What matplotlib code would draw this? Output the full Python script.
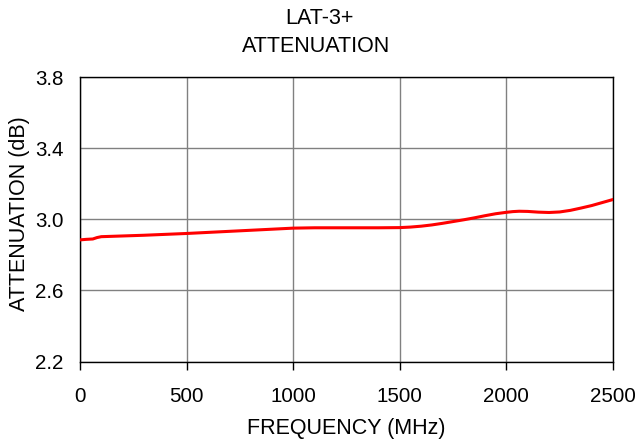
import matplotlib
matplotlib.use('Agg')
import matplotlib.pyplot as plt

plt.rcParams['font.family'] = ['Liberation Sans', 'DejaVu Sans']

# values
freq_mhz = [0, 30, 60, 80, 100, 200, 300, 400, 500, 600, 700, 800, 900, 1000,
            1100, 1200, 1300, 1400, 1500, 1550, 1600, 1650, 1700, 1750, 1800,
            1850, 1900, 1950, 2000, 2030, 2060, 2100, 2150, 2200, 2250, 2300,
            2350, 2400, 2450, 2500]
atten_db = [2.884, 2.887, 2.889, 2.897, 2.902, 2.906, 2.910, 2.915, 2.920, 2.926,
            2.932, 2.938, 2.944, 2.950, 2.952, 2.952, 2.952, 2.952, 2.953, 2.956,
            2.961, 2.968, 2.977, 2.987, 2.997, 3.008, 3.020, 3.031, 3.039, 3.043,
            3.045, 3.044, 3.040, 3.038, 3.041, 3.050, 3.063, 3.077, 3.094, 3.111]

x_ticks = [0, 500, 1000, 1500, 2000, 2500]
y_ticks = [2.2, 2.6, 3.0, 3.4, 3.8]

W, H = 638, 440
fig = plt.figure(figsize=(W / 100, H / 100), dpi=100)
ax = fig.add_axes([80 / W, (H - 361.5) / H, 533 / W, 284.5 / H])

ax.plot(freq_mhz, atten_db, color='#ff0000', linewidth=2.2, zorder=3)

ax.set_xlim(0, 2500)
ax.set_ylim(2.2, 3.8)
ax.set_xticks(x_ticks)
ax.set_yticks(y_ticks)
ax.set_yticklabels(['%.1f' % v for v in y_ticks])
ax.grid(True, color='#808080', linewidth=1.0)
ax.tick_params(axis='x', labelsize=14.8, length=6, width=1, color='black',
               direction='out', pad=12)
ax.tick_params(axis='y', labelsize=14.8, length=0, pad=12)
for s in ax.spines.values():
    s.set_color('black')
    s.set_linewidth(1.0)

fig.text(319 / W, 1 - 18 / H, 'LAT-3+', fontsize=15.5, ha='center', va='center')
fig.text(316 / W, 1 - 46 / H, 'ATTENUATION', fontsize=15.5, ha='center', va='center')
fig.text(346.5 / W, 1 - 428 / H, 'FREQUENCY (MHz)', fontsize=15.5,
         ha='center', va='center')
fig.text(20 / W, 1 - 213.5 / H, 'ATTENUATION (dB)', fontsize=15.5,
         ha='center', va='center', rotation=90)

fig.savefig('out.png', dpi=100)
